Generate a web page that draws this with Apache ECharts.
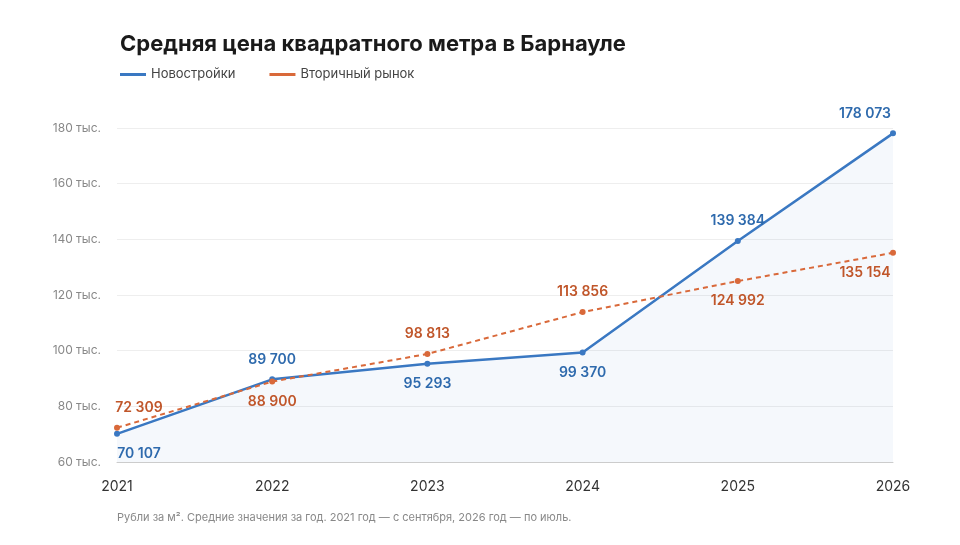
<!DOCTYPE html>
<html><head><meta charset="utf-8">
<script src="https://cdn.jsdelivr.net/npm/echarts@6/dist/echarts.min.js"></script>
<style>html,body{margin:0;background:#fff}#c{width:960px;height:545px}</style>
</head><body><div id="c"></div>
<script>
const years = ['2021','2022','2023','2024','2025','2026'];
const newBuild = [70107, 89700, 95293, 99370, 139384, 178073];
const secondary = [72309, 88900, 98813, 113856, 124992, 135154];
const newPos = ['bottom','top','bottom','bottom','top','top'];
const secPos = ['top','bottom','top','top','bottom','bottom'];
const fmt = v => String(v).replace(/\B(?=(\d{3})+(?!\d))/g, ' ');
const edgeOff = i => i===0 ? [22,0] : (i===years.length-1 ? [-28,0] : [0,0]);
const ch = echarts.init(document.getElementById('c'));
const lab = (col) => ({show:true, distance:10, color:col, fontSize:14, fontWeight:600, fontFamily:'Inter', formatter:p=>fmt(p.value)});
ch.setOption({
  animation:false,
  title:{text:'Средняя цена квадратного метра в Барнауле', left:115, top:28, textStyle:{fontSize:22, fontWeight:'bold', color:'#1a1a1a', fontFamily:'Inter'}},
  legend:{left:115, top:63, itemWidth:26, itemHeight:3, itemGap:34, textStyle:{fontSize:13, color:'#444', fontFamily:'Inter'},
    data:[{name:'Новостройки', icon:'rect'},{name:'Вторичный рынок', icon:'rect'}]},
  grid:{left:117, right:67, top:128, bottom:83},
  xAxis:{type:'category', data:years, boundaryGap:false,
    axisLine:{lineStyle:{color:'#ccc'}}, axisTick:{show:false},
    axisLabel:{color:'#333', fontSize:14, margin:18, fontFamily:'Inter'}},
  yAxis:{type:'value', min:60000, max:180000, interval:20000,
    axisLabel:{color:'#888', fontSize:12, margin:16, fontFamily:'Inter', formatter:v=>(v/1000)+' тыс.'},
    splitLine:{lineStyle:{color:'#eee'}}},
  series:[
    {name:'Новостройки', type:'line', color:'#3a78c2', symbol:'circle', symbolSize:6, z:3,
      lineStyle:{width:2.5}, areaStyle:{color:'rgba(58,120,194,0.07)'},
      label:lab('#2e6aad'),
      data:newBuild.map((v,i)=>({value:v, label:{position:newPos[i], offset:edgeOff(i)}}))},
    {name:'Вторичный рынок', type:'line', color:'#d9693a', symbol:'circle', symbolSize:6,
      lineStyle:{width:2, type:[5,4]},
      label:lab('#c0562a'),
      data:secondary.map((v,i)=>({value:v, label:{position:secPos[i], offset:edgeOff(i)}}))}
  ],
  graphic:[{type:'text', left:117, top:512, style:{text:'Рубли за м². Средние значения за год. 2021 год — с сентября, 2026 год — по июль.', fontSize:11, fill:'#888', fontFamily:'Inter'}}]
});
</script></body></html>
